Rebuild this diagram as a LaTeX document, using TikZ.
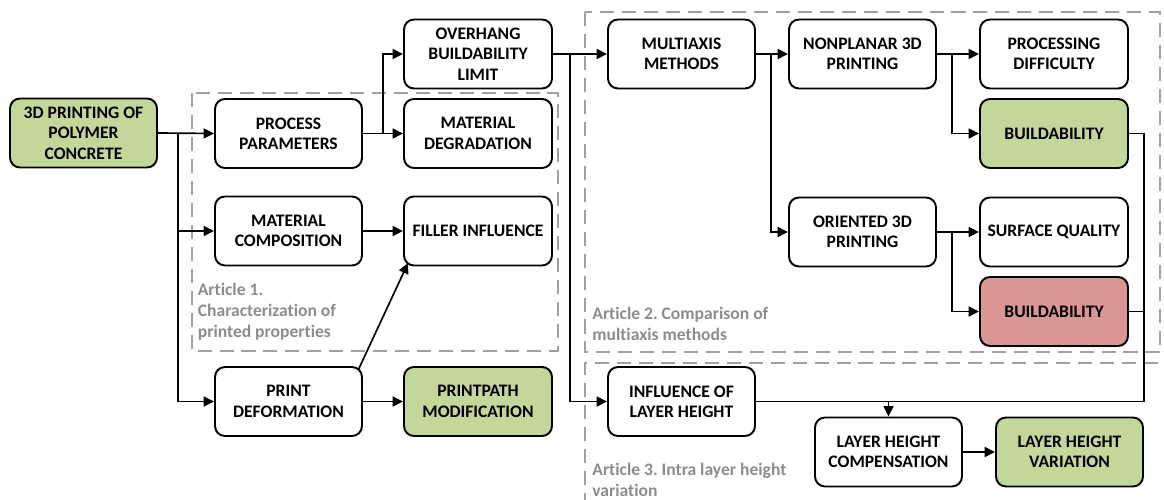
\documentclass[tikz,border=0pt]{standalone}
\usepackage{fontspec}
\setmainfont{Carlito}[Ligatures={NoCommon}]
\usetikzlibrary{arrows.meta,calc}
\definecolor{boxgreen}{RGB}{196,215,155}
\definecolor{boxred}{RGB}{218,150,148}
\definecolor{dashgray}{RGB}{160,160,160}
\definecolor{labgray}{RGB}{140,140,140}
\tikzset{
  stepbox/.style={draw=black, line width=1.1pt, rounded corners=0.2cm, fill=white,
    minimum height=1.38cm, inner sep=1pt, align=center,
    font=\bfseries\fontsize{10}{11.6}\selectfont},
  greenbox/.style={stepbox, fill=boxgreen},
  redbox/.style={stepbox, fill=boxred},
  conn/.style={line width=0.95pt, draw=black},
  arr/.style={conn, -{Triangle[length=0.21cm,width=0.2cm]}},
  article/.style={draw=dashgray, line width=0.9pt, dash pattern=on 8pt off 4.5pt},
  artlabel/.style={anchor=north west, inner sep=0pt, align=left, text=labgray,
    font=\frenchspacing\bfseries\fontsize{10}{12}\selectfont},
}
\begin{document}
\begin{tikzpicture}[x=0.02cm, y=-0.02cm]
\useasboundingbox (0,0) rectangle (1164,500);
\begin{scope}
\clip (0,0) rectangle (1164,500);
% article frames
\draw[article] (192,93) rectangle (558,351);
\draw[article] (585,12) rectangle (1160,352);
\draw[article] (1180,363) -- (585,363) -- (585,510);
\end{scope}
% labels
\node[artlabel] (l1) at (197.5,283) {Article 1.\\Characterization of\\printed properties};
\node[artlabel] (l2) at (592,307) {Article 2. Comparison of\\multiaxis methods};
\node[artlabel] (l3) at (592,463) {Article 3. Intra layer height\\variation};
% nodes
\node[greenbox, minimum width=2.94cm] (root) at (83.5,133) {3D PRINTING OF\\POLYMER\\CONCRETE};
\node[stepbox, minimum width=2.94cm] (pp) at (288.5,133.5) {PROCESS\\PARAMETERS};
\node[stepbox, minimum width=2.94cm] (mc) at (288.5,231) {MATERIAL\\COMPOSITION};
\node[stepbox, minimum width=2.94cm] (pd) at (288.5,401.5) {PRINT\\DEFORMATION};
\node[stepbox, minimum width=2.96cm] (ov) at (478,54) {OVERHANG\\BUILDABILITY\\LIMIT};
\node[stepbox, minimum width=2.96cm] (md) at (478,133.5) {MATERIAL\\DEGRADATION};
\node[stepbox, minimum width=2.96cm] (fi) at (478,231) {FILLER INFLUENCE};
\node[greenbox, minimum width=2.96cm] (pm) at (478,401.5) {PRINTPATH\\MODIFICATION};
\node[stepbox, minimum width=2.94cm] (ma) at (681.5,54) {MULTIAXIS\\METHODS};
\node[stepbox, minimum width=2.94cm] (il) at (681.5,401.5) {INFLUENCE OF\\LAYER HEIGHT};
\node[stepbox, minimum width=2.94cm] (np) at (862.5,54) {NONPLANAR 3D\\PRINTING};
\node[stepbox, minimum width=2.94cm] (or) at (862.5,232) {ORIENTED 3D\\PRINTING};
\node[stepbox, minimum width=2.96cm] (pdif) at (1054,54) {PROCESSING\\DIFFICULTY};
\node[greenbox, minimum width=2.96cm] (bg) at (1054,133.5) {BUILDABILITY};
\node[stepbox, minimum width=2.96cm] (sq) at (1054,232) {SURFACE QUALITY};
\node[redbox, minimum width=2.96cm] (br) at (1054,311.5) {BUILDABILITY};
\node[stepbox, minimum width=2.94cm] (lc) at (888.5,452) {LAYER HEIGHT\\COMPENSATION};
\node[greenbox, minimum width=2.94cm] (lv) at (1069.5,452) {LAYER HEIGHT\\VARIATION};
% connectors
\coordinate (t1) at (178,133);
\draw[arr] (root.east) -- (pp.west);
\draw[arr] (t1) |- (mc.west);
\draw[arr] (t1) |- (pd.west);
\coordinate (t2) at (383,133.5);
\draw[arr] (pp.east) -- (md.west);
\draw[arr] (t2) |- (ov.west);
\draw[arr] (mc.east) -- (fi.west);
\draw[arr] ([xshift=-0.09cm,yshift=-0.07cm]pd.north east) -- ([xshift=0.1cm,yshift=0.07cm]fi.south west);
\draw[arr] (pd.east) -- (pm.west);
\coordinate (t3) at (570,54);
\draw[arr] (ov.east) -- (ma.west);
\draw[arr] (t3) |- (il.west);
\coordinate (t4) at (771,54);
\draw[arr] (ma.east) -- (np.west);
\draw[arr] (t4) |- (or.west);
\coordinate (t5) at (952,54);
\draw[arr] (np.east) -- (pdif.west);
\draw[arr] (t5) |- (bg.west);
\coordinate (t6) at (952,232);
\draw[arr] (or.east) -- (sq.west);
\draw[arr] (t6) |- (br.west);
\coordinate (c1) at (1144,401.5);
\draw[conn] (bg.east) -| (c1);
\draw[conn] (br.east) -| (c1);
\draw[conn] (il.east) -- (c1);
\coordinate (t7) at (888.5,401.5);
\draw[arr] (t7) -- (lc.north);
\draw[arr] (lc.east) -- (lv.west);
\end{tikzpicture}
\end{document}
